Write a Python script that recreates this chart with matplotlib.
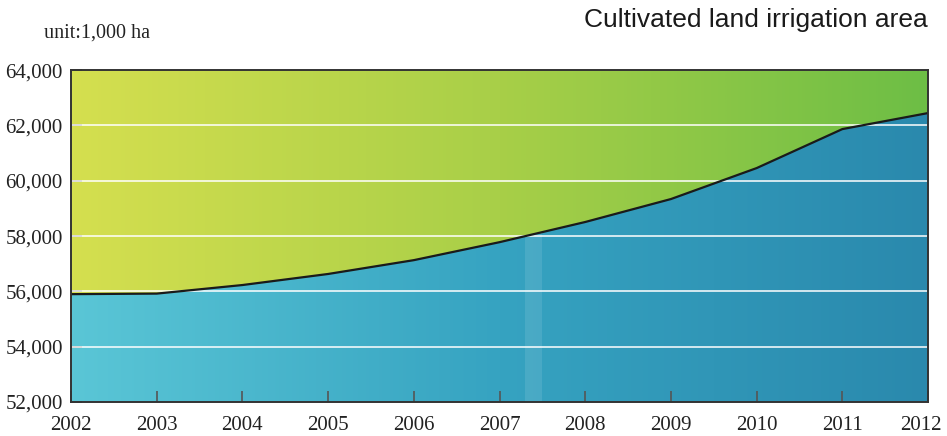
import numpy as np
import matplotlib.pyplot as plt
import matplotlib.transforms as mtransforms
from matplotlib.colors import LinearSegmentedColormap
from matplotlib.patches import Polygon

# irrigated area of cultivated land, unit 1,000 ha
years = [2002, 2003, 2004, 2005, 2006, 2007, 2008, 2009, 2010, 2011, 2012]
area = [55900, 55920, 56230, 56630, 57130, 57780, 58510, 59340, 60460, 61870, 62450]
yticks = [52000, 54000, 56000, 58000, 60000, 62000, 64000]
ymin, ymax = 52000, 64000

fig = plt.figure(figsize=(9.47, 4.36), dpi=100)
ax = fig.add_axes([0.075, 0.078, 0.905, 0.761])
ax.set_xlim(years[0], years[-1])
ax.set_ylim(ymin, ymax)

green = LinearSegmentedColormap.from_list("g", ["#d5df4f", "#a8cf48", "#6dbe45"])
blue = LinearSegmentedColormap.from_list("b", ["#5ac6d6", "#36a3c1", "#2a89ad"])
grad = np.linspace(0, 1, 512).reshape(1, -1)
ext = (years[0], years[-1], ymin, ymax)

# green area above the curve, blue area below
upper = Polygon(list(zip(years, area)) + [(years[-1], ymax), (years[0], ymax)],
                closed=True, transform=ax.transData, facecolor="none", edgecolor="none")
lower = Polygon(list(zip(years, area)) + [(years[-1], ymin), (years[0], ymin)],
                closed=True, transform=ax.transData, facecolor="none", edgecolor="none")
ax.add_patch(upper)
ax.add_patch(lower)
im1 = ax.imshow(grad, cmap=green, aspect="auto", extent=ext, zorder=1)
im1.set_clip_path(upper)
im2 = ax.imshow(grad, cmap=blue, aspect="auto", extent=ext, zorder=1)
im2.set_clip_path(lower)

band = ax.axvspan(2007.3, 2007.5, color="white", alpha=0.1, lw=0, zorder=2)
band.set_clip_path(lower)

for y in yticks[1:-1]:
    ax.axhline(y, color="white", lw=1.1, zorder=3)

ax.plot(years, area, color="#1a1a1a", lw=1.6, zorder=4)

for s in ax.spines.values():
    s.set_color("#333333")
    s.set_linewidth(1.4)
    s.set_zorder(5)

ax.set_xticks(years)
ax.set_yticks(yticks)
ax.set_yticklabels([f"{v:,}" for v in yticks])
ax.tick_params(direction="in", length=8, width=1.2, color="#555555",
               labelsize=15)
ax.tick_params(axis="x", pad=10)
ax.tick_params(axis="y", pad=6)
for lab in ax.get_xticklabels() + ax.get_yticklabels():
    lab.set_family("Liberation Serif")
    lab.set_color("#222222")

# keep the last year label inside the figure
last = ax.get_xticklabels()[-1]
last.set_transform(last.get_transform() +
                   mtransforms.ScaledTranslation(-0.07, 0, fig.dpi_scale_trans))

fig.text(0.046, 0.924, "unit:1,000 ha", family="Liberation Serif", fontsize=14.5,
         color="#222222", va="center")
fig.text(0.98, 0.955, "Cultivated land irrigation area", family="Liberation Sans",
         fontsize=19, color="#1a1a1a", ha="right", va="center")

fig.savefig("out.png", dpi=100)
